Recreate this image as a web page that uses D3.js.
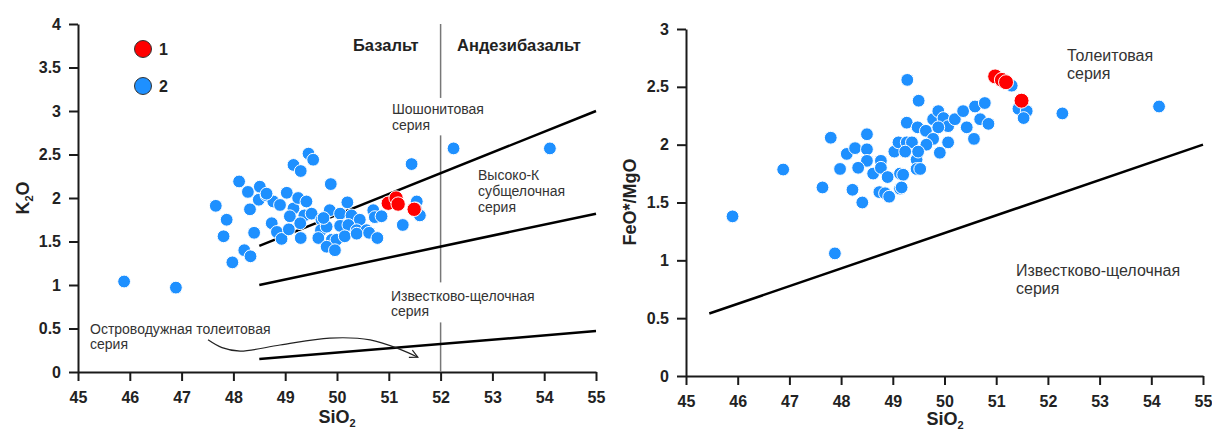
<!DOCTYPE html>
<html>
<head>
<meta charset="utf-8">
<script src="https://cdn.jsdelivr.net/npm/d3@7"></script>
<style>
  body { margin: 0; background: #fff; }
  svg { display: block; font-family: "Liberation Sans", Arial, sans-serif; }
</style>
</head>
<body>
<svg id="chart" width="1212" height="431"></svg>
<script>
// SiO2 / K2O, left diagram
const leftBlue = [
  [45.89,1.04],[46.89,0.97],[47.66,1.91],[47.87,1.75],[47.81,1.56],[47.98,1.26],[48.21,1.40],[48.33,1.33],
  [48.11,2.19],[48.28,2.07],[48.51,2.13],[48.49,1.98],[48.32,1.87],[48.64,2.03],[48.77,1.96],[48.40,1.60],
  [48.74,1.71],[48.84,1.61],[48.93,1.53],[48.90,1.92],[49.03,2.06],[49.16,2.38],[49.30,2.31],[49.45,2.51],
  [49.54,2.44],[49.16,1.88],[49.25,2.00],[49.41,1.96],[49.09,1.79],[49.37,1.80],[49.29,1.71],[49.07,1.64],
  [49.30,1.54],[49.51,1.82],[49.70,1.75],[49.69,1.63],[49.64,1.54],[49.88,2.16],[49.86,1.86],[49.80,1.67],
  [49.90,1.52],[50.20,1.95],[49.74,1.77],[50.06,1.82],[50.28,1.80],[50.44,1.75],[50.70,1.86],[50.73,1.78],
  [50.86,1.79],[50.06,1.68],[50.22,1.69],[50.38,1.63],[50.57,1.63],[49.99,1.52],[50.15,1.56],[50.38,1.59],
  [50.62,1.60],[50.78,1.54],[49.80,1.44],[49.96,1.40],[51.27,1.69],[51.54,1.96],[51.60,1.80],[51.52,1.88],
  [51.44,2.39],[52.25,2.57],[54.11,2.57],[48.64,2.05]
];
const leftRed = [[50.99,1.94],[51.14,2.00],[51.18,1.93],[51.49,1.87]];

// SiO2 / FeO*/MgO, right diagram
const rightBlue = [
  [45.90,1.38],[46.88,1.785],[47.64,1.63],[47.80,2.06],[47.98,1.79],[48.22,1.61],[48.41,1.50],[48.11,1.92],
  [48.27,1.97],[48.50,2.09],[48.50,1.96],[48.50,1.86],[48.33,1.80],[48.62,1.75],[48.77,1.86],[48.77,1.80],
  [48.90,1.72],[48.74,1.59],[48.85,1.58],[48.93,1.55],[49.14,1.62],[49.14,1.75],[49.03,1.94],[49.11,2.02],
  [49.28,2.56],[49.27,2.19],[49.27,2.02],[49.50,2.38],[49.48,2.15],[49.37,2.02],[49.24,1.94],[49.46,1.87],
  [49.46,1.79],[49.64,2.12],[49.78,2.22],[49.88,2.29],[49.98,2.23],[50.07,2.16],[49.88,2.15],[50.20,2.22],
  [50.36,2.29],[50.43,2.15],[50.59,2.33],[50.78,2.36],[50.69,2.22],[50.85,2.18],[50.57,2.05],[50.07,2.02],
  [49.91,1.93],[49.78,2.05],[49.65,2.00],[49.49,1.94],[49.53,1.79],[49.20,1.74],[49.17,1.63],[51.30,2.51],
  [51.43,2.31],[51.59,2.29],[51.53,2.23],[52.28,2.27],[54.15,2.33],[47.88,1.06]
];
const rightRed = [[50.98,2.59],[51.11,2.56],[51.19,2.54],[51.49,2.38]];

// series boundaries
const shoshoniteLine = [[48.5,1.45],[55,3.0]];
const highKLine = [[48.5,1.0],[55,1.82]];
const calcAlkLine = [[48.5,0.15],[55,0.47]];
const arrowCurve = [[47.51,0.37],[47.78,0.28],[48.13,0.24],[48.9,0.31],[49.86,0.39],[50.64,0.37],[51.22,0.26],[51.56,0.17]];
const basaltDivide = [[4.0,3.15],[2.72,1.03],[0.57,0]]; // SiO2 = 52, gaps for labels
const miyashiroLine = [[45.45,0.54],[55,2.0]];

const xTicks = [45,46,47,48,49,50,51,52,53,54,55];
const yTicksL = [0,0.5,1,1.5,2,2.5,3,3.5,4];
const yTicksR = [0,0.5,1,1.5,2,2.5,3];

const BLUE = "#1e90ff", RED = "#ff0000";
const svg = d3.select("#chart");

function axes(g, x, y, yTicks) {
  const ax = g.append("g").attr("transform", `translate(0,${y.range()[0]})`)
    .call(d3.axisBottom(x).tickValues(xTicks).tickSize(9).tickPadding(11).tickSizeOuter(0).tickFormat(d => d));
  const ay = g.append("g").attr("transform", `translate(${x.range()[0]},0)`)
    .call(d3.axisLeft(y).tickValues(yTicks).tickSize(9).tickPadding(8).tickSizeOuter(0).tickFormat(d => d));
  [ax, ay].forEach(a => {
    a.select(".domain").attr("stroke", "#1a1a1a").attr("stroke-width", 2);
    a.selectAll(".tick line").attr("stroke", "#1a1a1a").attr("stroke-width", 2);
    a.selectAll(".tick text").attr("fill", "#222").style("font-size", "16px").style("font-weight", "bold");
  });
}

function seg(g, x, y, pts, w) {
  g.append("path").datum(pts)
    .attr("d", d3.line().x(d => x(d[0])).y(d => y(d[1])))
    .attr("fill", "none").attr("stroke", "#000").attr("stroke-width", w);
}

function dots(g, x, y, data, fill, r) {
  g.append("g").selectAll("circle").data(data).join("circle")
    .attr("cx", d => x(d[0])).attr("cy", d => y(d[1])).attr("r", r)
    .attr("fill", fill).attr("stroke", "#fff").attr("stroke-width", 1);
}

function label(g, px, py, lines, size, lh, weight) {
  const t = g.append("text").attr("x", px).attr("y", py)
    .attr("fill", weight === "bold" ? "#222" : "#333")
    .style("font-size", size + "px").style("font-weight", weight || "normal");
  lines.forEach((s, i) => t.append("tspan").attr("x", px).attr("dy", i ? lh : 0).text(s));
}

// ---- left diagram
const xL = d3.scaleLinear([45, 55], [78, 596]);
const yL = d3.scaleLinear([0, 4], [372, 24]);
const gL = svg.append("g");
axes(gL, xL, yL, yTicksL);

basaltDivide.forEach(([a, b]) => {
  gL.append("line").attr("x1", xL(52)).attr("x2", xL(52)).attr("y1", yL(a)).attr("y2", yL(b))
    .attr("stroke", "#777").attr("stroke-width", 1.5);
});
[shoshoniteLine, highKLine, calcAlkLine].forEach(l => seg(gL, xL, yL, l, 2.5));

svg.append("defs").append("marker").attr("id", "arr")
  .attr("viewBox", "0 0 10 10").attr("refX", 9).attr("refY", 5)
  .attr("markerWidth", 10).attr("markerHeight", 10).attr("markerUnits", "userSpaceOnUse")
  .attr("orient", "auto")
  .append("path").attr("d", "M1,1 L9,5 L1,9").attr("fill", "none").attr("stroke", "#222").attr("stroke-width", 1.2);
gL.append("path").datum(arrowCurve)
  .attr("d", d3.line().x(d => xL(d[0])).y(d => yL(d[1])).curve(d3.curveCatmullRom))
  .attr("fill", "none").attr("stroke", "#222").attr("stroke-width", 1.2).attr("marker-end", "url(#arr)");

dots(gL, xL, yL, leftBlue, BLUE, 6.4);
dots(gL, xL, yL, leftRed, RED, 7.2);

label(gL, 353, 51, ["Базальт"], 16.5, 0, "bold");
label(gL, 457, 51, ["Андезибазальт"], 16.5, 0, "bold");
label(gL, 392, 114, ["Шошонитовая", "серия"], 14, 16);
label(gL, 478, 180, ["Высоко-К", "субщелочная", "серия"], 14, 16);
label(gL, 391, 301, ["Известково-щелочная", "серия"], 14, 15);
label(gL, 90, 334, ["Островодужная толеитовая", "серия"], 14, 15);

// legend
[[RED, "1", 49], [BLUE, "2", 86]].forEach(([c, t, cy]) => {
  gL.append("circle").attr("cx", 143).attr("cy", cy).attr("r", 8.5)
    .attr("fill", c).attr("stroke", "#333").attr("stroke-width", 1);
  gL.append("text").attr("x", 159).attr("y", cy + 6).text(t)
    .attr("fill", "#222").style("font-size", "16px").style("font-weight", "bold");
});

const yl = gL.append("text").attr("transform", "translate(29,198) rotate(-90)")
  .attr("text-anchor", "middle").attr("fill", "#222").style("font-size", "18px").style("font-weight", "bold");
yl.append("tspan").text("K");
yl.append("tspan").text("2").style("font-size", "11px").attr("dy", 4);
yl.append("tspan").text("O").attr("dy", -4);

function siLabel(g, cx, by) {
  const t = g.append("text").attr("x", cx).attr("y", by).attr("text-anchor", "middle")
    .attr("fill", "#222").style("font-size", "18px").style("font-weight", "bold");
  t.append("tspan").text("SiO");
  t.append("tspan").text("2").style("font-size", "11px").attr("dy", 4);
}
siLabel(gL, 337, 423);

// ---- right diagram
const xR = d3.scaleLinear([45, 55], [686, 1203]);
const yR = d3.scaleLinear([0, 3], [376, 29]);
const gR = svg.append("g");
axes(gR, xR, yR, yTicksR);
seg(gR, xR, yR, miyashiroLine, 2.5);
dots(gR, xR, yR, rightBlue, BLUE, 6.4);
dots(gR, xR, yR, rightRed, RED, 7.5);

label(gR, 1067, 61, ["Толеитовая", "серия"], 16, 18);
label(gR, 1016, 276, ["Известково-щелочная", "серия"], 16, 18);

gR.append("text").attr("transform", "translate(636,202) rotate(-90)")
  .attr("text-anchor", "middle").attr("fill", "#222").style("font-size", "18px").style("font-weight", "bold")
  .text("FeO*/MgO");
siLabel(gR, 945, 425);
</script>
</body>
</html>
